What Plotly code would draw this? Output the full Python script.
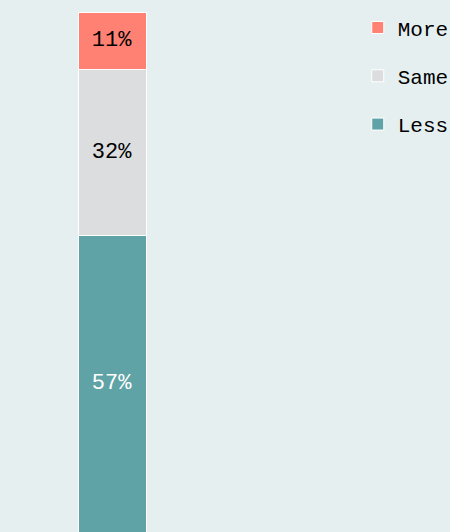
import plotly.graph_objects as go

# share of respondents, single stacked column
categories = ["Less", "Same", "More"]
values = [57, 32, 11]
labels = ["57%", "32%", "11%"]
colors = ["#5fa3a7", "#dcdddf", "#ff8173"]
text_colors = ["white", "black", "black"]
legend_ranks = [3, 2, 1]

fig = go.Figure()
for cat, val, lab, col, tcol, rank in zip(categories, values, labels, colors, text_colors, legend_ranks):
    fig.add_trace(go.Bar(
        x=[0], y=[val], name=cat, legendgroup=cat, legendrank=rank,
        width=1, text=[lab], textposition="inside",
        insidetextanchor="middle", textangle=0,
        textfont=dict(color=tcol, size=22, family="Liberation Mono"),
        marker=dict(color=col, line=dict(color="white", width=1)),
        hoverinfo="skip",
    ))

fig.update_layout(
    barmode="stack",
    width=450, height=532,
    margin=dict(l=0, r=0, t=12, b=0, autoexpand=False),
    paper_bgcolor="#e5eff0",
    plot_bgcolor="#e5eff0",
    font=dict(family="Liberation Mono", size=21, color="black"),
    xaxis=dict(range=[-112 / 68, 338 / 68], visible=False, fixedrange=True),
    yaxis=dict(range=[0, 100], visible=False, fixedrange=True),
    uniformtext=dict(mode="show", minsize=21),
    legend=dict(
        x=0.795, y=1.009, xanchor="left", yanchor="top",
        traceorder="grouped", tracegroupgap=18,
        bgcolor="rgba(0,0,0,0)", font=dict(size=21),
        itemclick=False, itemdoubleclick=False,
    ),
    showlegend=True,
)

# drop the page margin so the figure fills the window
fig.write_html("out.html", config={"displayModeBar": False},
               post_script="document.body.style.margin='0px';")
